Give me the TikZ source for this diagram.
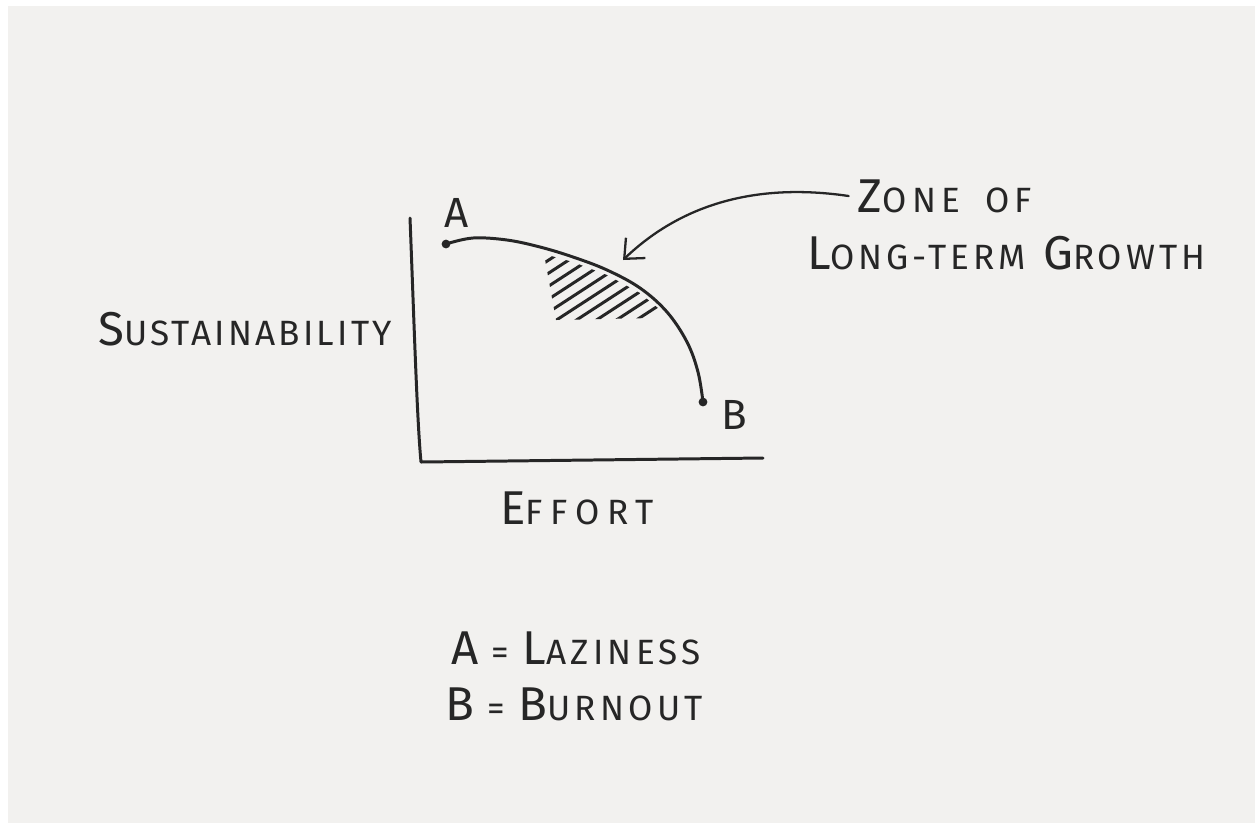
\documentclass[tikz,border=0pt]{standalone}
\usepackage{fontspec}
\usepackage{xcolor}
\usetikzlibrary{arrows.meta}
\newfontfamily\handfont[LetterSpace=5]{Fira Sans}
\definecolor{cPaper}{RGB}{242,241,239}
\definecolor{cInk}{RGB}{38,38,38}
% hand lettering: a tall first letter, the rest as small capitals
\newcommand\hcap[2]{{\fontsize{27}{30}\selectfont #1}{\fontsize{20}{24}\selectfont #2}}
\newcommand\spread[1]{\handfont\addfontfeatures{LetterSpace=#1}}
\tikzset{
	ink/.style    ={draw=cInk, line width=1.7pt, line cap=round, line join=round},
	hand/.style   ={text=cInk, font=\handfont, inner sep=0pt, anchor=center},
	dotend/.style ={circle, fill=cInk, inner sep=0pt, minimum size=5pt},
	hatch/.style  ={draw=cInk, line width=1.7pt},
	pointer/.style={ink, line width=1.3pt, -{Straight Barb[length=9pt, width=16pt]}},
}

\begin{document}
\begin{tikzpicture}[x=0.02cm, y=-0.02cm]
	\useasboundingbox (0,0) rectangle (1255,823);
	\fill[white] (0,0) rectangle (1255,823);
	\fill[cPaper] (8,6) rectangle (1255,823);
	% axes
	\coordinate (yTop) at (410,218);
	\coordinate (org) at (421,462);
	\coordinate (xEnd) at (763,458);
	\draw[ink] (yTop) .. controls (414,320) and (417,420) .. (org) -- (xEnd);
	% zone hatching under the curve
	\begin{scope}
		\clip (544,254) -- (573,262) -- (607,275) -- (640,293) -- (658,308) -- (652,318) -- (556,320) -- cycle;
		\foreach \i in {-7,...,5}
			\draw[hatch] (458+\i*20,384) -- ++(200,-130);
	\end{scope}
	% the curve from A to B
	\node[dotend] (ptA) at (446,244) {};
	\node[dotend] (ptB) at (703,402) {};
	\draw[ink] plot[smooth, tension=0.6] coordinates {(ptA.center) (473,238) (507,240) (540,247) (573,257) (607,270) (640,288) (667,312) (687,342) (698,372) (ptB.center)};
	\node[hand] (labA) at (457,213) {\fontsize{24}{28}\selectfont A};
	\node[hand] (labB) at (734,415) {\fontsize{24}{28}\selectfont B};
	% axis labels
	\node[hand, font=\spread{9}] (sust) at (245,329) {\hcap{S}{USTAINABILITY}};
	\node[hand, font=\spread{22}] (effort) at (577,508) {\hcap{E}{FFORT}};
	% callout
	\node[hand, font=\spread{15}] (zoneTop) at (945,196) {\hcap{Z}{ONE\hspace{6pt} OF}};
	\node[hand, font=\spread{11}] (zoneBot) at (1006,253) {\hcap{L}{ONG-TERM}\hspace{6pt} \hcap{G}{ROWTH}};
	\coordinate (zoneTip) at (623,260);
	\draw[pointer] ([xshift=-5pt]zoneTop.west) .. controls (740,180) and (670,215) .. (zoneTip);
	% legend
	\node[hand, font=\spread{12}] (legA) at (576,648) {\hcap{A}{ = }\hcap{L}{AZINESS}};
	\node[hand, font=\spread{12}] (legB) at (574,704) {\hcap{B}{ = }\hcap{B}{URNOUT}};
\end{tikzpicture}
\end{document}
